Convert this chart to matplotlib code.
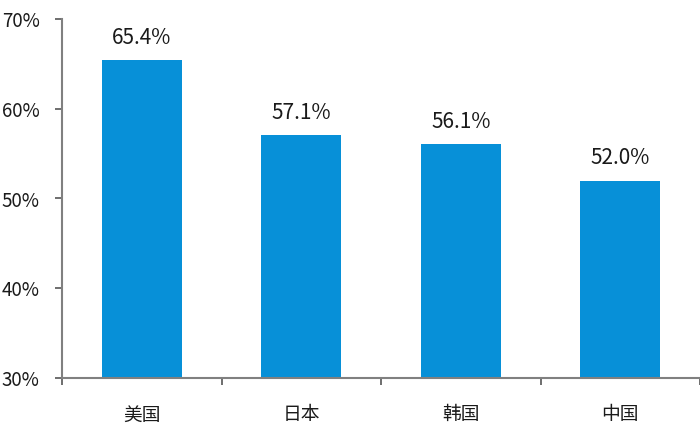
import matplotlib
matplotlib.use("Agg")
import matplotlib.pyplot as plt
from matplotlib.ticker import FixedLocator

plt.rcParams['font.family'] = ['Noto Sans CJK SC', 'DejaVu Sans']

categories = ['美国', '日本', '韩国', '中国']
values = [65.4, 57.1, 56.1, 52.0]
yticks = [30, 40, 50, 60, 70]
ytick_labels = ['30%', '40%', '50%', '60%', '70%']

fig = plt.figure(figsize=(7.0, 4.36), dpi=100)
ax = fig.add_axes([62/700, 58/436, 638/700, 359/436])

x = list(range(len(categories)))
ax.bar(x, values, width=0.5, color='#0790d8', bottom=0)
for xi, v in zip(x, values):
    ax.annotate(f'{v:.1f}%', (xi, v), xytext=(0, 8), textcoords='offset points',
                ha='center', va='bottom', fontsize=15, color='#1a1a1a')

ax.set_xlim(-0.5, len(categories) - 0.5)
ax.set_ylim(30, 70)
ax.set_yticks(yticks)
ax.set_yticklabels(ytick_labels, fontsize=13.5, color='#1a1a1a')
ax.set_xticks(x)
ax.set_xticklabels(categories, fontsize=13.5, color='#1a1a1a')
ax.xaxis.set_minor_locator(FixedLocator([i - 0.5 for i in range(len(categories) + 1)]))
ax.tick_params(axis='x', which='major', length=0, pad=19)
ax.tick_params(axis='x', which='minor', length=5, width=1.2, color='#555555', direction='out')
ax.tick_params(axis='y', which='major', length=5, width=1.2, color='#555555', direction='out', pad=11)

for s in ['top', 'right']:
    ax.spines[s].set_visible(False)
for s in ['left', 'bottom']:
    ax.spines[s].set_color('#808080')
    ax.spines[s].set_linewidth(1.5)

fig.savefig('out.png', dpi=100)
